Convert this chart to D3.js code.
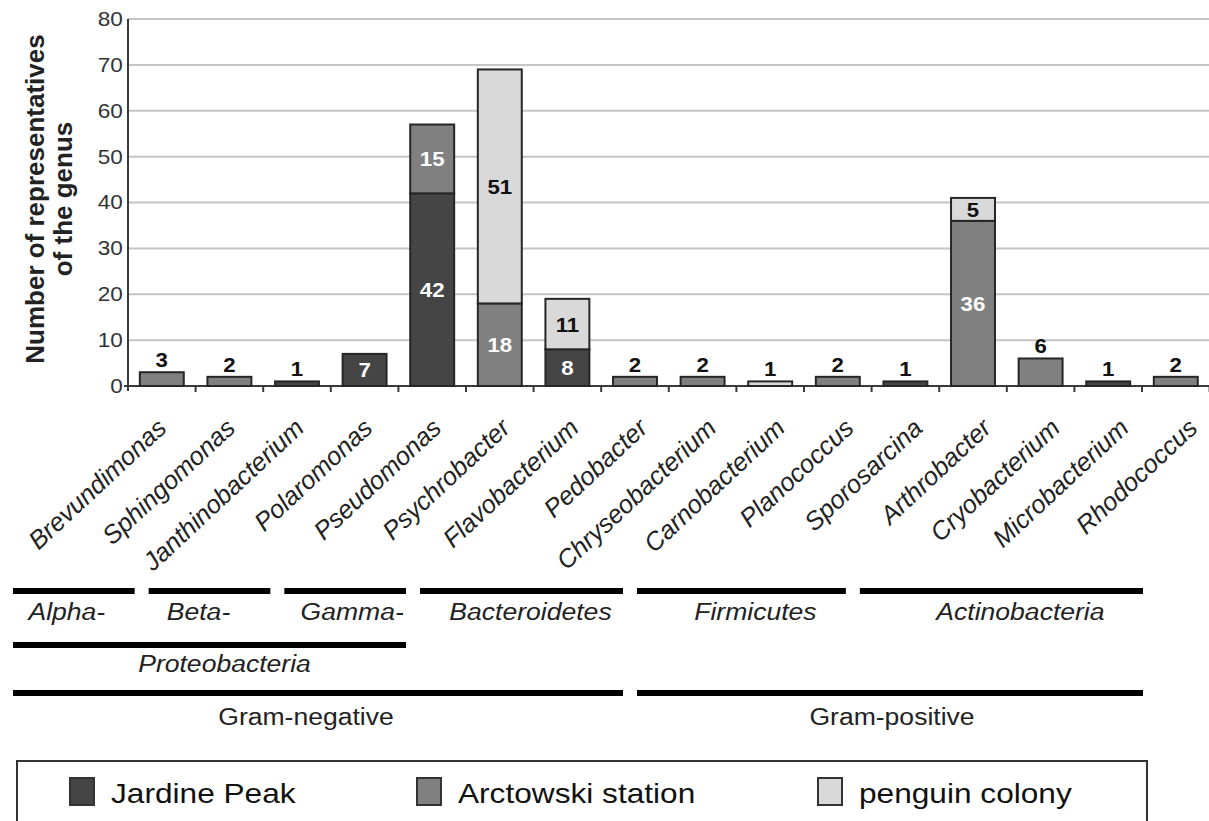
<!DOCTYPE html>
<html><head><meta charset="utf-8">
<script src="https://cdn.jsdelivr.net/npm/d3@7"></script>
<style>
body{margin:0;background:#fff}
svg{display:block}
text{font-family:"Liberation Sans",Arial,sans-serif}
</style>
</head><body>
<svg id="chart" width="1209" height="821"></svg>
<script>
// ---------- data ----------
const genera = ["Brevundimonas","Sphingomonas","Janthinobacterium","Polaromonas","Pseudomonas",
  "Psychrobacter","Flavobacterium","Pedobacter","Chryseobacterium","Carnobacterium",
  "Planococcus","Sporosarcina","Arthrobacter","Cryobacterium","Microbacterium","Rhodococcus"];
const jardinePeak      = [0,0,1,7,42, 0, 8,0,0,0,0,1, 0,0,1,0];
const arctowskiStation = [3,2,0,0,15,18, 0,2,2,0,2,0,36,6,0,2];
const penguinColony    = [0,0,0,0, 0,51,11,0,0,1,0,0, 5,0,0,0];
const seriesNames = ["Jardine Peak","Arctowski station","penguin colony"];
const yTicks = [0,10,20,30,40,50,60,70,80];
const yTitle = ["Number of representatives","of the genus"];
// taxonomic groups: [label, first genus, last genus]
const groupsClass  = [["Alpha-","Brevundimonas","Sphingomonas"],["Beta-","Janthinobacterium","Polaromonas"],
  ["Gamma-","Pseudomonas","Psychrobacter"],["Bacteroidetes","Flavobacterium","Chryseobacterium"],
  ["Firmicutes","Carnobacterium","Sporosarcina"],["Actinobacteria","Arthrobacter","Rhodococcus"]];
const groupsPhylum = [["Proteobacteria","Brevundimonas","Psychrobacter"]];
const groupsGram   = [["Gram-negative","Brevundimonas","Chryseobacterium"],["Gram-positive","Carnobacterium","Rhodococcus"]];

// ---------- drawing ----------
(function(){
const keys = ["jardine","arctowski","penguin"];
const colors = {jardine:"#454545", arctowski:"#808080", penguin:"#d9d9d9"};
const table = genera.map((g,i)=>({genus:g, jardine:jardinePeak[i], arctowski:arctowskiStation[i], penguin:penguinColony[i]}));
const svg = d3.select("#chart");
const pLeft = 128, pRight = 1209.6, pTop = 19, pBottom = 386;
const SX = 1.13; // horizontal glyph stretch of the original figure

const x = d3.scaleBand().domain(genera).range([pLeft,pRight]).paddingInner(0.35).paddingOuter(0.175);
const y = d3.scaleLinear().domain([0,80]).range([pBottom,pTop]);

// gridlines
svg.append("g").selectAll("line").data(yTicks.filter(d=>d>0)).join("line")
  .attr("x1",pLeft).attr("x2",1209).attr("y1",d=>y(d)).attr("y2",d=>y(d))
  .attr("stroke","#c4c4c4").attr("stroke-width",2);

// y axis
const ya = svg.append("g").attr("transform",`translate(${pLeft},0)`)
  .call(d3.axisLeft(y).tickValues(yTicks).tickSize(0).tickPadding(4.5));
ya.select(".domain").remove();
ya.selectAll("text").attr("font-size",20).attr("fill","#333")
  .attr("font-family","Liberation Sans, Arial, sans-serif")
  .attr("transform",`scale(${SX},1)`);
svg.append("line").attr("x1",pLeft).attr("x2",pLeft).attr("y1",pTop).attr("y2",pBottom+5)
  .attr("stroke","#3a3a3a").attr("stroke-width",2);

// x axis line + boundary ticks
svg.append("line").attr("x1",pLeft-4).attr("x2",1209).attr("y1",pBottom).attr("y2",pBottom)
  .attr("stroke","#3a3a3a").attr("stroke-width",2);
const step = x.step();
svg.append("g").selectAll("line").data(genera).join("line")
  .attr("x1",d=>x(d)+x.bandwidth()+(step-x.bandwidth())/2)
  .attr("x2",d=>x(d)+x.bandwidth()+(step-x.bandwidth())/2)
  .attr("y1",pBottom).attr("y2",pBottom+6).attr("stroke","#3a3a3a").attr("stroke-width",2);

// bars
const stacked = d3.stack().keys(keys)(table);
const segs = [];
stacked.forEach(s=>s.forEach(d=>{ if(d[1]-d[0]>0) segs.push({key:s.key, genus:d.data.genus, y0:d[0], y1:d[1], v:d[1]-d[0], data:d.data}); }));
svg.append("g").selectAll("rect").data(segs).join("rect")
  .attr("x",d=>x(d.genus)).attr("width",x.bandwidth())
  .attr("y",d=>y(d.y1)).attr("height",d=>y(d.y0)-y(d.y1))
  .attr("fill",d=>colors[d.key]).attr("stroke","#262626").attr("stroke-width",2);

// value labels
const nonZero = d => keys.filter(k=>d[k]>0).length;
const isOutside = d => nonZero(d.data)===1 && d.v<=6;
svg.append("g").selectAll("text").data(segs).join("text")
  .attr("transform",d=>{
    const cx = x(d.genus)+x.bandwidth()/2;
    const cy = isOutside(d) ? y(d.y1)-5 : (y(d.y0)+y(d.y1))/2+7.5;
    return `translate(${cx},${cy}) scale(1.06,1)`;})
  .attr("text-anchor","middle").attr("font-size",21).attr("font-weight","bold")
  .attr("fill",d=>(isOutside(d) || d.key==="penguin") ? "#111" : "#fff")
  .text(d=>d.v);

// category labels (slanted italic text)
const labelX = d3.scalePoint().domain(genera).range([168,1199]);
svg.append("g").selectAll("text").data(genera).join("text")
  .attr("transform",d=>`translate(${labelX(d)},${pBottom+44}) rotate(-43)`)
  .attr("text-anchor","end").attr("font-size",25.5).attr("font-style","italic").attr("fill","#222")
  .text(d=>d);

// y title
const yt = svg.append("text").attr("transform","translate(44,199) rotate(-90)")
  .attr("text-anchor","middle").attr("font-size",26).attr("font-weight","bold").attr("fill","#222");
yt.append("tspan").attr("x",0).attr("y",0).text(yTitle[0]);
yt.append("tspan").attr("x",0).attr("y",28).text(yTitle[1]);

// group annotation lines
const idx = g => genera.indexOf(g);
const annX = d3.scaleLinear().domain([0,6,9,16]).range([6,413,630,1150]);
const labelShift = {"Alpha-":-7,"Beta-":-11,"Gamma-":7,"Bacteroidetes":9,"Firmicutes":14,
  "Actinobacteria":19,"Proteobacteria":15,"Gram-negative":-12,"Gram-positive":2};
function drawGroups(groups, lineY, textY, italic){
  const g = svg.append("g");
  groups.forEach(([name,a,b])=>{
    const x0 = annX(idx(a))+7, x1 = annX(idx(b)+1)-7;
    g.append("line").attr("x1",x0).attr("x2",x1).attr("y1",lineY).attr("y2",lineY)
      .attr("stroke","#000").attr("stroke-width",6);
    g.append("text").attr("transform",`translate(${(x0+x1)/2+(labelShift[name]||0)},${textY}) scale(${SX},1)`)
      .attr("text-anchor","middle").attr("font-size",23.5)
      .attr("font-style",italic?"italic":"normal").attr("fill","#222").text(name);
  });
}
drawGroups(groupsClass, 591, 620, true);
drawGroups(groupsPhylum, 645, 672, true);
drawGroups(groupsGram, 693, 725, false);

// legend
svg.append("rect").attr("x",17).attr("y",761).attr("width",1130).attr("height",80)
  .attr("fill","none").attr("stroke","#333").attr("stroke-width",2);
const legX = [69, 416, 817];
const lg = svg.append("g").selectAll("g").data(keys).join("g")
  .attr("transform",(d,i)=>`translate(${legX[i]},778)`);
lg.append("rect").attr("x",1).attr("y",0).attr("width",24).attr("height",27)
  .attr("fill",d=>colors[d]).attr("stroke","#333").attr("stroke-width",2);
lg.append("text").attr("transform",`translate(42,25) scale(${SX},1)`)
  .attr("font-size",28).attr("fill","#111").text((d,i)=>seriesNames[i]);
})();
</script>
</body></html>
